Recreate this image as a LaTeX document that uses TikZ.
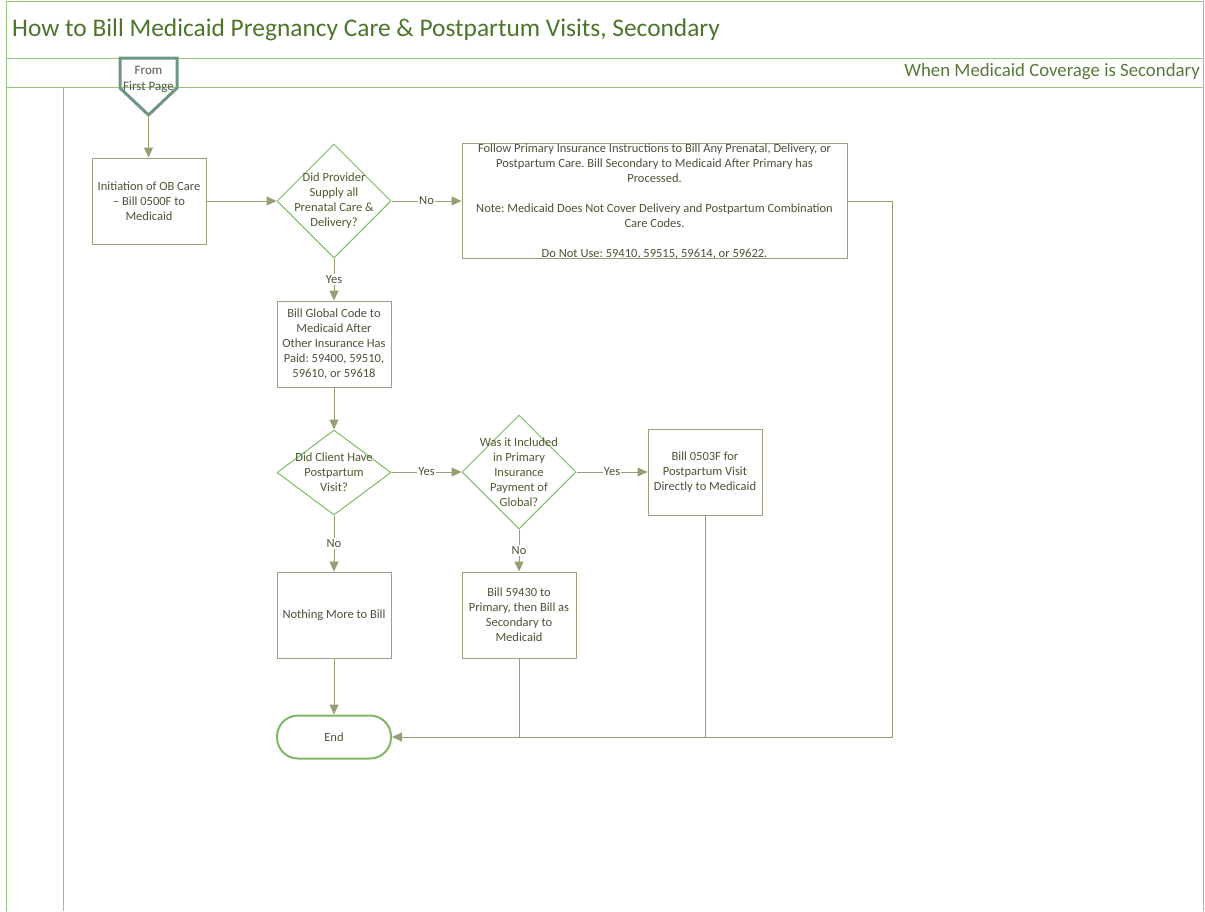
\documentclass[tikz,border=0pt]{standalone}
\usepackage{fontspec}
\setmainfont{Carlito}
\usetikzlibrary{shapes.geometric,arrows.meta}
\definecolor{lanec}{RGB}{146,200,120}
\definecolor{titlec}{RGB}{76,117,43}
\definecolor{lanetxt}{RGB}{88,120,58}
\definecolor{boxc}{RGB}{160,160,128}
\definecolor{arrc}{RGB}{150,158,115}
\definecolor{diac}{RGB}{125,185,100}
\definecolor{txtc}{RGB}{80,80,55}
\definecolor{diatxt}{RGB}{75,90,45}
\definecolor{offc}{RGB}{110,150,135}
\definecolor{offtxt}{RGB}{75,90,70}
\newcommand\bodyfont{\fontsize{12.5}{15}\selectfont}
\frenchspacing
\begin{document}
\frenchspacing
\begin{tikzpicture}[x=1pt,y=-1pt,
  lane/.style={draw=lanec, line width=1pt},
  boxnode/.style={draw=boxc, line width=1pt, minimum width=114, minimum height=86, inner sep=0, align=center, text=txtc, font=\bodyfont},
  dianode/.style={diamond, draw=diac, line width=1pt, minimum width=114, minimum height=114, inner sep=0},
  diatext/.style={align=center, text=diatxt, font=\bodyfont, inner sep=0},
  endnode/.style={draw=diac, line width=2pt, rounded corners=21, minimum width=114, minimum height=43, inner sep=0, text=diatxt, font=\bodyfont},
  arr/.style={draw=arrc, line width=1pt, -{Triangle[length=10pt,width=9pt]}},
  plainline/.style={draw=arrc, line width=1pt},
  lbl/.style={fill=white, inner sep=1pt, text=txtc, font=\bodyfont},
  offp/.style={draw=offc, line width=3pt, line join=miter}
]
\useasboundingbox (0,0) rectangle (1205,911);
% frame and lanes
\draw[lane] (6,911) -- (6,1) -- (1203,1) -- (1203,911);
\draw[lane] (6,58) -- (1203,58);
\draw[lane] (6,87) -- (1203,87);
\draw[lane] (63,87) -- (63,911);
\node[anchor=west, inner sep=0, text=titlec, font=\fontsize{25.4}{30}\selectfont] (title) at (12,30) {How to Bill Medicaid Pregnancy Care \& Postpartum Visits, Secondary};
\node[anchor=east, inner sep=0, text=lanetxt, font=\fontsize{18.8}{22}\selectfont] (lanelabel) at (1200,72) {When Medicaid Coverage is Secondary};
% off-page connector
\draw[offp] (120,58) -- (177,58) -- (177,88) -- (148.5,115) -- (120,88) -- cycle;
\coordinate (fp) at (148.5,115);
\node[align=center, inner sep=0, text=offtxt, font=\fontsize{13}{16}\selectfont] (fptext) at (148.5,79) {From\\First Page};
% nodes
\node[boxnode] (b1) at (149,201) {Initiation of OB Care\\– Bill 0500F to\\Medicaid};
\node[dianode] (d1) at (334,201) {};
\node[diatext] at (d1) {Did Provider\\Supply all\\Prenatal Care \&\\Delivery?};
\node[boxnode, minimum width=385, minimum height=114] (b2) at (654.5,201) {Follow Primary Insurance Instructions to Bill Any Prenatal, Delivery, or\\Postpartum Care. Bill Secondary to Medicaid After Primary has\\Processed.\\[15pt]Note: Medicaid Does Not Cover Delivery and Postpartum Combination\\Care Codes.\\[15pt]Do Not Use: 59410, 59515, 59614, or 59622.};
\node[boxnode] (b3) at (334,344) {Bill Global Code to\\Medicaid After\\Other Insurance Has\\Paid: 59400, 59510,\\59610, or 59618};
\node[dianode, minimum height=85] (d2) at (334,472.5) {};
\node[diatext] at (d2) {Did Client Have\\Postpartum\\Visit?};
\node[dianode] (d3) at (519,472) {};
\node[diatext] at (d3) {Was it Included\\in Primary\\Insurance\\Payment of\\Global?};
\node[boxnode] (b4) at (705,472.5) {Bill 0503F for\\Postpartum Visit\\Directly to Medicaid};
\node[boxnode] (b5) at (519,615) {Bill 59430 to\\Primary, then Bill as\\Secondary to\\Medicaid};
\node[boxnode] (b6) at (334,615) {Nothing More to Bill};
\node[endnode] (end) at (334,737) {End};
\coordinate (rt) at (892,201);
% connectors
\draw[arr] (fp) -- (fp |- b1.north);
\draw[arr] (b1) -- (d1);
\draw[arr] (d1) -- node[lbl]{No} (b2);
\draw[arr] (b2.east) -- (rt) |- (end.east);
\draw[arr] (d1) -- node[lbl]{Yes} (b3);
\draw[arr] (b3) -- (d2);
\draw[arr] (d2.east |- d3.west) -- node[lbl]{Yes} (d3.west);
\draw[arr] (d3) -- node[lbl]{Yes} (b4.west |- d3.east);
\draw[arr] (d3) -- node[lbl]{No} (b5);
\draw[arr] (d2) -- node[lbl]{No} (b6);
\draw[arr] (b6) -- (end);
\draw[plainline] (b5.south) -- (b5.south |- end.east);
\draw[plainline] (b4.south) -- (b4.south |- end.east);
\end{tikzpicture}
\end{document}
